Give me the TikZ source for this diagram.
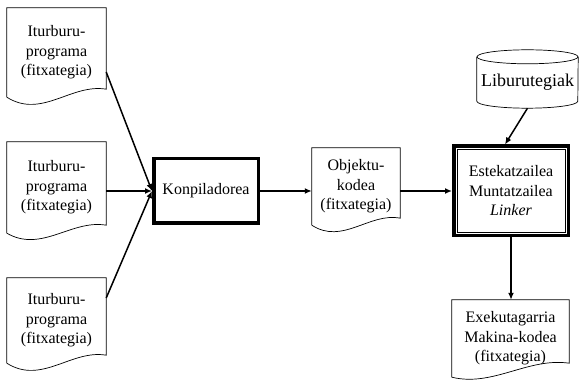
\documentclass[tikz,border=0pt]{standalone}
\usepackage{fontspec}
\setmainfont{Liberation Serif}
\usetikzlibrary{arrows.meta,calc}
\newcommand{\docoutline}[3]{%
  \draw[docline] (#1.south west) -- (#1.north west) -- (#1.north east) -- ([yshift=#2pt]#1.south east)
    .. controls ($(#1.south west)!0.65!(#1.south east)+(0,#2+6)$) and ($(#1.south west)!0.35!(#1.south east)+(0,-#3)$) .. (#1.south west);}
\tikzset{
  doc/.style={rectangle, inner sep=0pt, align=center, font=\fontsize{16}{19.5}\selectfont},
  docline/.style={draw=black, line width=0.7pt},
  proc/.style={rectangle, draw=black, line width=3.5pt, inner sep=0pt, align=center, font=\fontsize{16}{19.5}\selectfont},
  conn/.style={line width=1.5pt, -{Latex[length=7pt,width=6pt]}}
}
\begin{document}
\begin{tikzpicture}[x=1pt,y=1pt]
\useasboundingbox (0,0) rectangle (579,380);
\node[doc, minimum width=99pt, minimum height=89pt] (src1) at (56.5,327.5) {Iturburu-\\programa\\(fitxategia)};
\node[doc, minimum width=99pt, minimum height=91pt] (src2) at (56.5,192.5) {Iturburu-\\programa\\(fitxategia)};
\node[doc, minimum width=99pt, minimum height=85pt] (src3) at (56.5,59.5) {Iturburu-\\programa\\(fitxategia)};
\node[proc, minimum width=104.5pt, minimum height=64.5pt] (komp) at (206,189) {Konpiladorea};
\node[doc, minimum width=88pt, minimum height=77pt] (obj) at (356,193.5) {Objektu-\\kodea\\(fitxategia)};
\node[proc, minimum width=114.5pt, minimum height=89.5pt] (link) at (511,189) {Estekatzailea\\Muntatzailea\\\textit{Linker}};
\node[rectangle, inner sep=0pt, minimum width=101pt, minimum height=51pt, font=\fontsize{18}{21}\selectfont] (lib) at (527.5,297.5) {Liburutegiak};
\node[doc, minimum width=117pt, minimum height=77pt] (exec) at (510.5,41.5) {Exekutagarria\\Makina-kodea\\(fitxategia)};

\docoutline{src1}{8}{22}
\docoutline{src2}{8}{20}
\docoutline{src3}{8}{22}
\docoutline{obj}{7}{20}
\docoutline{exec}{14}{10}
\draw[line width=0.8pt] ([shift={(5,-5)}]link.north west) rectangle ([shift={(-5,5)}]link.south east);
\draw[docline] (lib.north west) -- ([yshift=7pt]lib.south west) arc[start angle=180,end angle=360,x radius=50.5,y radius=7] -- (lib.north east);
\draw[docline] (lib.north) ellipse[x radius=50.5, y radius=7];

\draw[conn] ([yshift=-19.5pt]src1.east) -- (komp.west);
\draw[conn] (src2.east |- komp.west) -- (komp.west);
\draw[conn] ([yshift=22.5pt]src3.east) -- (komp.west);
\draw[conn] (komp.east) -- (obj.west |- komp.east);
\draw[conn] (obj.east |- link.west) -- (link.west);
\draw[conn] (lib.south) -- ([xshift=-6pt]link.north);
\draw[conn] (link.south) -- (link.south |- exec.north);
\end{tikzpicture}
\end{document}
